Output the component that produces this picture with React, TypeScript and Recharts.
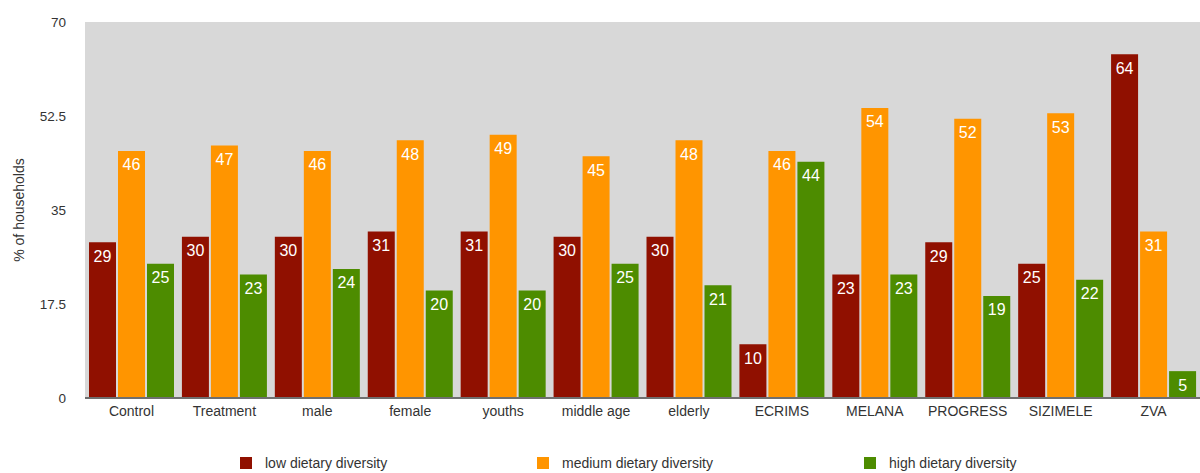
import React from "react";
import { BarChart, Bar, XAxis, YAxis, CartesianGrid, Legend, LabelList } from "recharts";

const groups = [
  "Control",
  "Treatment",
  "male",
  "female",
  "youths",
  "middle age",
  "elderly",
  "ECRIMS",
  "MELANA",
  "PROGRESS",
  "SIZIMELE",
  "ZVA",
];

const lowDiversity = [29, 30, 30, 31, 31, 30, 30, 10, 23, 29, 25, 64];
const mediumDiversity = [46, 47, 46, 48, 49, 45, 48, 46, 54, 52, 53, 31];
const highDiversity = [25, 23, 24, 20, 20, 25, 21, 44, 23, 19, 22, 5];

const yTicks = [0, 17.5, 35, 52.5, 70];

const series = [
  { key: "low", name: "low dietary diversity", color: "#901000", width: 297 },
  { key: "medium", name: "medium dietary diversity", color: "#FF9500", width: 327 },
  { key: "high", name: "high dietary diversity", color: "#4D8C00", width: 200 },
];

const rows = groups.map((g, i) => ({
  group: g,
  low: lowDiversity[i],
  medium: mediumDiversity[i],
  high: highDiversity[i],
}));

const FONT = '"Liberation Sans", Arial, Helvetica, sans-serif';

function LegendRow() {
  return (
    <div
      style={{
        display: "flex",
        height: 30,
        paddingLeft: 240,
        paddingTop: 14,
        boxSizing: "border-box",
        fontFamily: FONT,
        fontSize: 14,
        color: "#333",
      }}
    >
      {series.map((s) => (
        <div key={s.key} style={{ width: s.width, display: "flex", alignItems: "center", height: 12 }}>
          <span style={{ width: 12, height: 12, background: s.color, display: "inline-block", marginRight: 13 }} />
          <span style={{ lineHeight: "12px", whiteSpace: "nowrap" }}>{s.name}</span>
        </div>
      ))}
    </div>
  );
}

function YTitle() {
  return (
    <text
      x={19}
      y={210}
      transform="rotate(-90, 19, 210)"
      textAnchor="middle"
      dominantBaseline="central"
      fill="#333"
      fontSize={14}
      fontFamily={FONT}
    >
      % of households
    </text>
  );
}

export default function App() {
  return (
    <div style={{ position: "absolute", left: 0, top: 0, background: "#fff" }}>
      <BarChart
        width={1200}
        height={473}
        data={rows}
        margin={{ top: 22, right: 0, left: 0, bottom: 0 }}
        barCategoryGap={4}
        barGap={2}
      >
        <CartesianGrid fill="#D8D8D8" horizontal={false} vertical={false} />
        <XAxis
          dataKey="group"
          height={45}
          axisLine={{ stroke: "#6f6f6f", strokeWidth: 2 }}
          tickLine={false}
          tickMargin={2}
          interval={0}
          tick={{ fill: "#333", fontSize: 14, fontFamily: FONT }}
        />
        <YAxis
          width={85}
          domain={[0, 70]}
          ticks={yTicks}
          axisLine={false}
          tickLine={false}
          tickMargin={13}
          tick={{ fill: "#333", fontSize: 13.5, fontFamily: FONT }}
          label={<YTitle />}
        />
        <Legend verticalAlign="bottom" wrapperStyle={{ left: 0, width: 1200 }} content={() => <LegendRow />} />
        {series.map((s) => (
          <Bar key={s.key} dataKey={s.key} name={s.name} fill={s.color} isAnimationActive={false}>
            <LabelList
              dataKey={s.key}
              position="insideTop"
              offset={8}
              fill="#fff"
              fontSize={16}
              fontFamily={FONT}
            />
          </Bar>
        ))}
      </BarChart>
    </div>
  );
}
